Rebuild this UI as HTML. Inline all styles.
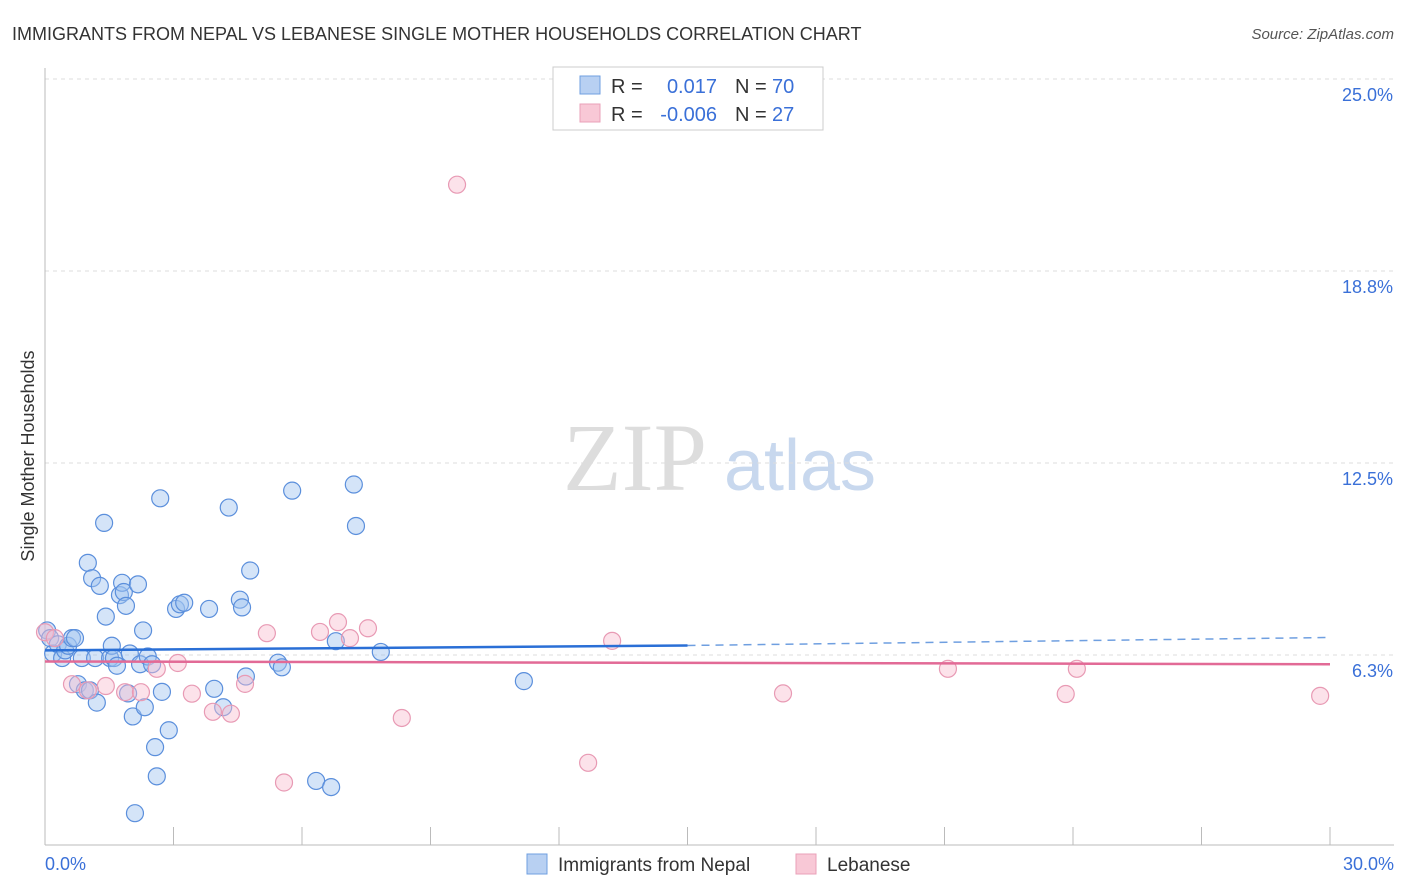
<!DOCTYPE html>
<html><head><meta charset="utf-8"><style>
body{margin:0;background:#fff;font-family:"Liberation Sans",sans-serif;}
svg{display:block}
</style></head><body>
<svg id="chart" width="1406" height="892">
<text x="12" y="40" font-size="18" fill="#333">IMMIGRANTS FROM NEPAL VS LEBANESE SINGLE MOTHER HOUSEHOLDS CORRELATION CHART</text>
<text x="1394" y="39" font-size="15" fill="#555" font-style="italic" text-anchor="end">Source: ZipAtlas.com</text>
<text x="34" y="456" font-size="18" fill="#333" text-anchor="middle" transform="rotate(-90 34 456)">Single Mother Households</text>
<g><text x="635" y="490" font-size="96" fill="#ddd" font-family="Liberation Serif,serif" text-anchor="middle">ZIP</text><text x="800" y="490" font-size="72" fill="#c8d8ee" text-anchor="middle">atlas</text></g>
<g id="grid"></g><g id="marks"></g>
<g>
<rect x="553" y="67" width="270" height="63" fill="#fff" stroke="#ccc"/>
<rect x="580" y="76" width="20" height="18" fill="#b8d0f2" stroke="#6f9fe0"/>
<rect x="580" y="104" width="20" height="18" fill="#f8c8d6" stroke="#eaa0b8"/>
<text x="611" y="93" font-size="20" fill="#333">R =</text><text x="717" y="93" font-size="20" fill="#3a70d8" text-anchor="end">0.017</text>
<text x="735" y="93" font-size="20" fill="#333">N =</text><text x="772" y="93" font-size="20" fill="#3a70d8">70</text>
<text x="611" y="121" font-size="20" fill="#333">R =</text><text x="717" y="121" font-size="20" fill="#3a70d8" text-anchor="end">-0.006</text>
<text x="735" y="121" font-size="20" fill="#333">N =</text><text x="772" y="121" font-size="20" fill="#3a70d8">27</text>
</g>
<g>
<rect x="527" y="854" width="20" height="20" fill="#b8d0f2" stroke="#6f9fe0"/><text x="558" y="871" font-size="19" fill="#333">Immigrants from Nepal</text>
<rect x="796" y="854" width="20" height="20" fill="#f8c8d6" stroke="#eaa0b8"/><text x="827" y="871" font-size="19" fill="#333">Lebanese</text>
</g>
</svg>
<script>
const yTicks=[6.25,12.5,18.75,25];
const yTickLabels=["6.3%","12.5%","18.8%","25.0%"];
const xTicks=[0,3,6,9,12,15,18,21,24,27,30];
const nepalX=[0.05,0.12,0.19,0.3,0.4,0.47,0.54,0.63,0.7,0.77,0.86,0.93,1.0,1.05,1.1,1.17,1.21,1.28,1.38,1.42,1.52,1.56,1.61,1.68,1.75,1.8,1.84,1.89,1.94,1.98,2.05,2.1,2.17,2.22,2.29,2.33,2.4,2.5,2.57,2.61,2.69,2.73,2.89,3.06,3.15,3.25,3.83,3.95,4.16,4.29,4.55,4.6,4.69,4.79,5.44,5.53,5.77,6.33,6.68,6.79,7.21,7.26,7.84,11.18];
const nepalY=[7.05,6.8,6.3,6.6,6.15,6.4,6.55,6.8,6.8,5.3,6.15,5.1,9.25,5.1,8.75,6.15,4.7,8.5,10.55,7.5,6.15,6.55,6.15,5.9,8.2,8.6,8.3,7.85,5.0,6.3,4.25,1.1,8.55,5.95,7.05,4.55,6.2,5.95,3.25,2.3,11.35,5.05,3.8,7.75,7.9,7.95,7.75,5.15,4.55,11.05,8.05,7.8,5.55,9.0,6.0,5.85,11.6,2.15,1.95,6.7,11.8,10.45,6.35,5.4];
const lebX=[0.0,0.23,0.63,1.0,1.42,1.87,2.24,2.61,3.1,3.43,3.92,4.34,4.67,5.18,5.58,6.42,6.84,7.12,7.54,8.33,9.62,12.68,13.24,17.23,21.08,23.83,24.09,29.77];
const lebY=[6.99,6.8,5.3,5.1,5.24,5.04,5.04,5.8,5.99,4.99,4.4,4.34,5.31,6.96,2.1,7.0,7.32,6.8,7.12,4.2,21.56,2.74,6.71,5.0,5.8,4.98,5.8,4.92];
const X=v=>45+v/30*1285, Y=v=>655-(v-6.25)*192/6.25;
const NS="http://www.w3.org/2000/svg";
const grid=document.getElementById('grid'),marks=document.getElementById('marks');
function mk(tag,attrs,parent){const e=document.createElementNS(NS,tag);for(const k in attrs)e.setAttribute(k,attrs[k]);parent.appendChild(e);return e;}
yTicks.forEach((t,i)=>{
 const l=mk('line',{x1:45,x2:1394,y1:Y(t),y2:Y(t),stroke:'#ddd','stroke-dasharray':'4 4'},grid);
 
 
 const tx=mk('text',{x:1393,y:Y(t)+22,'font-size':18,fill:'#3a70d8','text-anchor':'end'},grid);tx.textContent=yTickLabels[i];
 
 
});
const ax=mk('line',{x1:45,x2:1394,y1:845,y2:845,stroke:'#bbb'},grid);


const ay=mk('line',{x1:45,x2:45,y1:68,y2:845,stroke:'#bbb'},grid);


xTicks.forEach(t=>{const l=mk('line',{x1:X(t),x2:X(t),y1:827,y2:845,stroke:'#bbb'},grid);
 
 });
let t0=mk('text',{x:45,y:870,'font-size':18,fill:'#3a70d8'},grid);t0.textContent='0.0%';


let t1=mk('text',{x:1394,y:870,'font-size':18,fill:'#3a70d8','text-anchor':'end'},grid);t1.textContent='30.0%';


nepalX.forEach((x,i)=>{const c=mk('circle',{cx:X(x),cy:Y(nepalY[i]),r:8.5,fill:'rgba(160,195,240,0.45)',stroke:'#5b8fdc','stroke-width':1.2},marks);
 
 });
lebX.forEach((x,i)=>{const c=mk('circle',{cx:X(x),cy:Y(lebY[i]),r:8.5,fill:'rgba(248,190,208,0.45)',stroke:'#e89ab4','stroke-width':1.2},marks);
 
 });
const b1=mk('line',{x1:X(0),y1:Y(6.4),x2:X(15),y2:Y(6.56),stroke:'#2a6fd6','stroke-width':2.5},marks);


const b2=mk('line',{x1:X(15),y1:Y(6.56),x2:X(30),y2:Y(6.82),stroke:'#6f9fe0','stroke-width':1.5,'stroke-dasharray':'8 6'},marks);


const p1=mk('line',{x1:X(0),y1:Y(6.04),x2:X(30),y2:Y(5.95),stroke:'#e26a96','stroke-width':2.5},marks);


</script>
</body></html>
